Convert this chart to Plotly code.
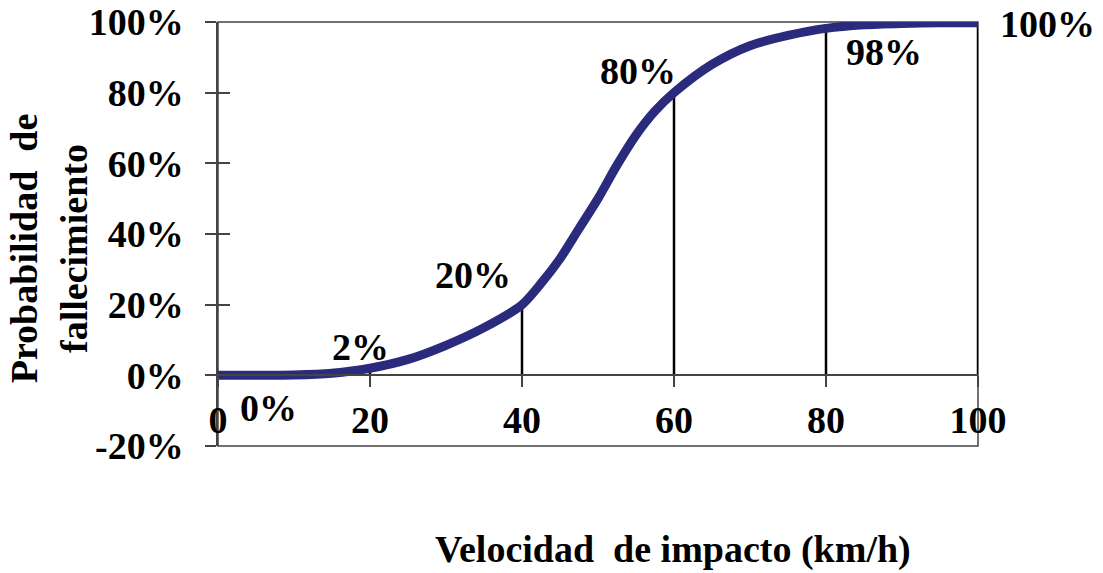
import plotly.graph_objects as go

# Data
speed = [0, 5, 10, 15, 20, 25, 30, 35, 40, 42.5, 45, 47.5, 50, 52.5, 55, 57.5, 60, 65, 70, 75, 80, 85, 90, 95, 100]
prob = [0.0, 0.0, 0.001, 0.006, 0.02, 0.045, 0.085, 0.135, 0.20, 0.26, 0.33, 0.415, 0.50, 0.595,
        0.68, 0.748, 0.80, 0.88, 0.933, 0.962, 0.982, 0.992, 0.996, 0.998, 0.998]

drop_x = [20, 40, 60, 80, 100]
drop_y = [0.02, 0.20, 0.80, 0.98, 1.00]

label_text = ["0%", "2%", "20%", "80%", "98%"]
label_x = [6.6, 18.7, 33.6, 55.3, 87.6]
label_y = [-0.093, 0.079, 0.283, 0.861, 0.915]
end_label = "100%"

x_ticks = [0, 20, 40, 60, 80, 100]
x_ticktext = ["0", "20", "40", "60", "80", "100"]
y_ticks = [-0.2, 0.0, 0.2, 0.4, 0.6, 0.8, 1.0]
y_ticktext = ["-20%", "0%", "20%", "40%", "60%", "80%", "100%"]

FONT = "Times New Roman, Liberation Serif, serif"
AXC = "#444444"
FS = 38

fig = go.Figure()

# Drop lines (base y axis, underneath)
dx, dy = [], []
for xv, yv in zip(drop_x, drop_y):
    dx += [xv, xv, None]
    dy += [0, yv, None]
fig.add_trace(go.Scatter(x=dx, y=dy, mode="lines", line=dict(color="black", width=2.5),
                         hoverinfo="skip", showlegend=False, yaxis="y"))

# Curve (overlay axis, on top)
fig.add_trace(go.Scatter(x=speed, y=prob, mode="lines",
                         line=dict(color="#2B2B7D", width=9, shape="spline", smoothing=0.8),
                         showlegend=False, yaxis="y2"))

for t, xv, yv in zip(label_text, label_x, label_y):
    fig.add_annotation(x=xv, y=yv, xref="x", yref="y", text=f"<b>{t}</b>", showarrow=False,
                       xanchor="center", yanchor="middle",
                       font=dict(family=FONT, size=FS, color="black"))
fig.add_annotation(x=1.091, y=0.995, xref="paper", yref="paper", text=f"<b>{end_label}</b>",
                   showarrow=False, xanchor="center", yanchor="middle",
                   font=dict(family=FONT, size=FS, color="black"))

fig.add_annotation(xref="paper", yref="paper", x=-0.222, y=0.467,
                   text="<b>Probabilidad  de<br>fallecimiento</b>", textangle=-90,
                   xanchor="center", yanchor="middle",
                   showarrow=False, font=dict(family=FONT, size=FS, color="black"))
fig.add_annotation(xref="paper", yref="paper", x=0.599, y=-0.245,
                   text="<b>Velocidad  de impacto (km/h)</b>",
                   xanchor="center", yanchor="middle",
                   showarrow=False, font=dict(family=FONT, size=FS, color="black"))

# Plot border
fig.add_shape(type="rect", xref="x domain", yref="y domain", x0=0, x1=1, y0=0, y1=1,
              line=dict(color=AXC, width=1.5), layer="below")

fig.update_layout(
    width=1103, height=573,
    margin=dict(l=218, r=125, t=22, b=127),
    paper_bgcolor="white", plot_bgcolor="white",
    font=dict(family=FONT, size=FS, color="black"),
    xaxis=dict(range=[0, 100], anchor="free", position=1/6, automargin=False,
               tickvals=x_ticks, ticktext=[f"<b>{t}</b>" for t in x_ticktext],
               ticks="outside", ticklen=11, tickwidth=1.5, tickcolor=AXC,
               showline=True, linecolor=AXC, linewidth=1.5,
               showgrid=False, zeroline=False, ticklabelstandoff=0,
               tickfont=dict(family=FONT, size=FS, color="black")),
    yaxis=dict(range=[-0.2, 1.0], automargin=False, tickvals=y_ticks,
               ticktext=[f"<b>{t}</b>" for t in y_ticktext],
               ticks="outside", ticklen=11, tickwidth=1.5, tickcolor=AXC,
               showline=True, linecolor=AXC, linewidth=1.5,
               showgrid=False, zeroline=False, ticklabelstandoff=14,
               tickfont=dict(family=FONT, size=FS, color="black")),
    yaxis2=dict(range=[-0.2, 1.0], overlaying="y", side="left", anchor="x", automargin=False,
                tickvals=y_ticks, showticklabels=False,
                ticks="inside", ticklen=12, tickwidth=1.5, tickcolor=AXC,
                showline=False, showgrid=False, zeroline=False),
)

fig.write_html("out.html", config={"displayModeBar": False},
               post_script="document.body.style.margin='0';document.body.style.padding='0';")
